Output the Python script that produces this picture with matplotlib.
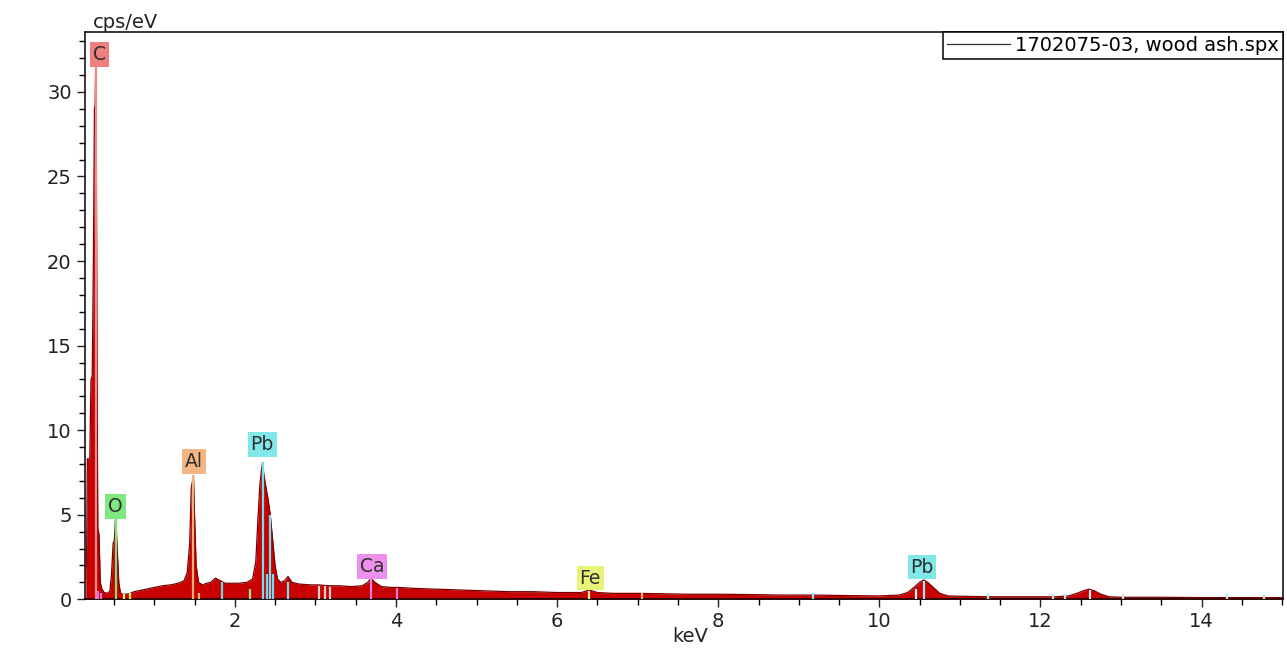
import matplotlib
matplotlib.use("Agg")
import matplotlib.pyplot as plt
from matplotlib.ticker import MultipleLocator

plt.rcParams["font.family"] = ["DejaVu Sans"]

# spectrum (keV, cps/eV)
energy = [0.15, 0.16, 0.17, 0.20, 0.215, 0.23, 0.245, 0.258, 0.266, 0.273, 0.28, 0.29, 0.30, 0.315,
          0.33, 0.35, 0.38, 0.42, 0.45, 0.47, 0.49, 0.505, 0.52, 0.53, 0.545, 0.56, 0.58,
          0.60, 0.65, 0.70, 0.75, 0.80, 0.90, 1.00, 1.10, 1.20, 1.30, 1.37, 1.41, 1.44,
          1.46, 1.475, 1.487, 1.50, 1.52, 1.55, 1.60, 1.65, 1.70, 1.76, 1.82, 1.88, 1.95,
          2.05, 2.15, 2.22, 2.26, 2.29, 2.31, 2.33, 2.345, 2.36, 2.38, 2.41, 2.44, 2.47,
          2.50, 2.53, 2.57, 2.62, 2.66, 2.71, 2.80, 2.95, 3.05, 3.15, 3.30, 3.45, 3.58,
          3.65, 3.69, 3.74, 3.82, 3.95, 4.05, 4.20, 4.50, 4.80, 5.10, 5.40, 5.70, 6.00,
          6.30, 6.40, 6.50, 6.70, 7.00, 7.30, 7.60, 8.00, 8.40, 8.80, 9.20, 9.60, 10.00,
          10.25, 10.35, 10.43, 10.50, 10.55, 10.60, 10.67, 10.75, 10.85, 11.00, 11.40,
          11.80, 12.20, 12.35, 12.45, 12.53, 12.60, 12.67, 12.75, 12.85, 13.00, 13.50,
          14.00, 14.50, 15.00]
counts = [1.2, 2.5, 8.3, 8.3, 13.0, 13.2, 20.0, 29.0, 29.2, 31.5, 29.0, 13.0, 4.2, 3.8,
          1.0, 0.6, 0.4, 0.35, 0.5, 1.5, 3.3, 3.5, 4.8, 4.0, 2.5, 1.0, 0.4,
          0.3, 0.3, 0.35, 0.45, 0.5, 0.6, 0.7, 0.8, 0.85, 0.95, 1.1, 1.6, 3.3,
          6.6, 7.0, 7.3, 5.0, 2.0, 1.0, 0.85, 0.95, 1.0, 1.25, 1.1, 0.95, 0.95,
          0.95, 1.0, 1.2, 2.2, 5.0, 6.7, 7.6, 8.1, 7.4, 6.8, 6.0, 5.0, 3.5,
          2.0, 1.2, 1.0, 1.1, 1.35, 1.0, 0.9, 0.85, 0.85, 0.8, 0.8, 0.75, 0.8,
          1.0, 1.25, 1.0, 0.75, 0.7, 0.7, 0.65, 0.6, 0.55, 0.5, 0.45, 0.45, 0.4,
          0.4, 0.55, 0.4, 0.35, 0.35, 0.33, 0.3, 0.3, 0.28, 0.25, 0.25, 0.22, 0.2,
          0.25, 0.4, 0.7, 1.0, 1.15, 1.0, 0.7, 0.35, 0.2, 0.18, 0.15,
          0.15, 0.15, 0.2, 0.35, 0.5, 0.6, 0.5, 0.3, 0.15, 0.12, 0.12,
          0.1, 0.1, 0.1]

# element marker lines (keV, height, colour)
line_kev = [0.277, 0.30, 0.34, 0.525, 0.63, 0.705, 1.487, 1.557, 1.84, 2.19, 2.345, 2.40,
            2.44, 2.47, 2.66, 3.05, 3.12, 3.18, 3.69, 4.01, 6.40, 7.06, 9.18, 10.45,
            10.55, 11.35, 12.16, 12.31, 12.62, 13.02, 14.32, 14.77]
line_h = [31.5, 0.5, 0.4, 4.8, 0.3, 0.35, 7.3, 0.4, 1.0, 0.6, 8.1, 1.5,
          5.0, 1.5, 1.0, 0.8, 0.8, 0.75, 1.2, 0.65, 0.5, 0.4, 0.35, 0.6,
          1.1, 0.35, 0.3, 0.3, 0.55, 0.3, 0.3, 0.3]
line_col = ["#f08a8a", "#e070e0", "#e070e0", "#7de07d", "#f0f060", "#f0f060", "#f4b07a",
            "#f4b07a", "#60d8e8", "#a0e0a0", "#70e0f0", "#70e0f0", "#70e0f0", "#70e0f0",
            "#70e0f0", "#f0d0d0", "#f0d0d0", "#f0d0d0", "#f080e0", "#f080e0", "#f8e8a0",
            "#f4b07a", "#a0e0e8", "#e0f0f0", "#a0e8f0", "#c8e8e8", "#c8e8e8", "#c8e8e8",
            "#e0f0f0", "#c8e8e8", "#c8e8e8", "#c8e8e8"]

# element labels (text, keV, cps/eV, box colour)
lab_txt = ["C", "O", "Al", "Pb", "Ca", "Fe", "Pb"]
lab_kev = [0.32, 0.52, 1.49, 2.34, 3.70, 6.41, 10.53]
lab_y = [32.2, 5.5, 8.15, 9.15, 1.95, 1.25, 1.9]
lab_col = ["#f08080", "#80e880", "#f4b484", "#80e8e8", "#ec90ec", "#e8f478", "#80e8e8"]

fig = plt.figure(figsize=(12.87, 6.5), dpi=100)
ax = fig.add_axes([0.066, 0.078, 0.9309, 0.873])

ax.fill_between(energy, counts, 0, color="#c80000", lw=0, zorder=2)
ax.plot(energy, counts, color="#7a0000", lw=0.9, zorder=3,
        label="1702075-03, wood ash.spx")
ax.vlines(line_kev, 0, line_h, colors=line_col, lw=1.6, zorder=4)

for t, x, y, c in zip(lab_txt, lab_kev, lab_y, lab_col):
    ax.text(x, y, t, ha="center", va="center", fontsize=13.5, color="#303030", zorder=5,
            bbox=dict(boxstyle="square,pad=0.15", fc=c, ec="none"))

ax.set_xlim(0.14, 15.01)
ax.set_ylim(0, 33.55)
ax.xaxis.set_major_locator(MultipleLocator(2))
ax.xaxis.set_minor_locator(MultipleLocator(0.5))
ax.yaxis.set_major_locator(MultipleLocator(5))
ax.yaxis.set_minor_locator(MultipleLocator(1))
ax.tick_params(which="major", length=6, width=1, labelsize=14, colors="#222222")
ax.tick_params(which="minor", length=4, width=1)
for s in ax.spines.values():
    s.set_linewidth(1.1)

leg = ax.legend(loc="upper right", borderaxespad=0, fancybox=False, framealpha=1,
                edgecolor="black", fontsize=14, handlelength=3.2, borderpad=0.2,
                handletextpad=0.3)
leg.get_frame().set_linewidth(1.1)
leg.get_lines()[0].set_color("#333333")

fig.text(0.0723, 0.965, "cps/eV", fontsize=14, va="center", ha="left", color="#222222")
fig.text(0.536, 0.02, "keV", fontsize=14, va="center", ha="center", color="#222222")

fig.savefig("out.png", dpi=100)
